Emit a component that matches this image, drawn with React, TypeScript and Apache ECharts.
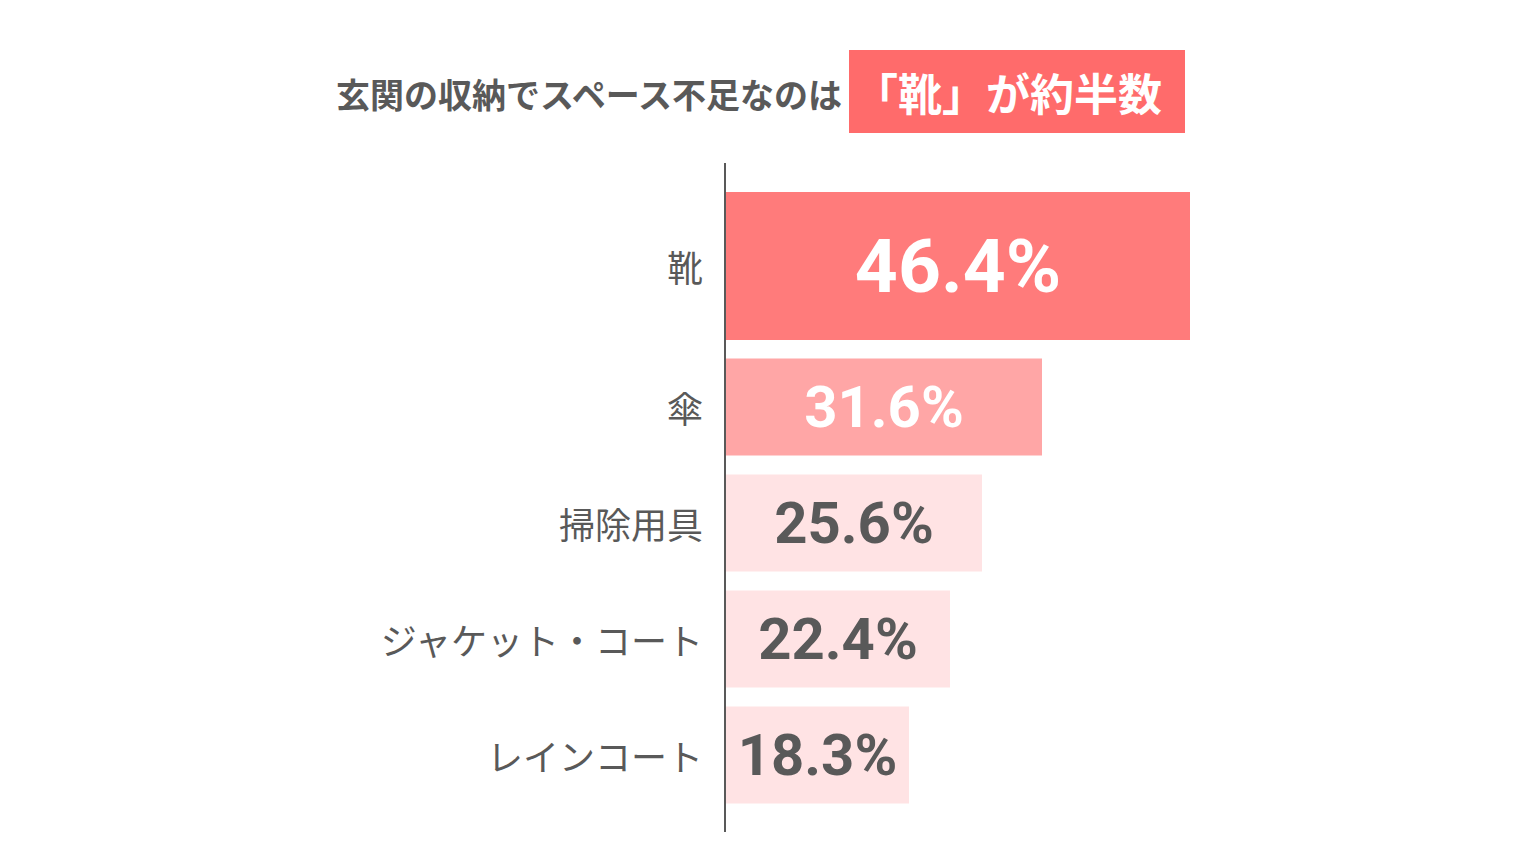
import React, { useEffect, useRef } from "react";
import * as echarts from "echarts";

const categories = ["靴", "傘", "掃除用具", "ジャケット・コート", "レインコート"];
const values = [46.4, 31.6, 25.6, 22.4, 18.3];
const titleLead = "玄関の収納でスペース不足なのは";
const titleHighlight = "「靴」が約半数";

const barColors = ["#FF7B7B", "#FFA6A6", "#FFE3E4", "#FFE3E4", "#FFE3E4"];
const labelColors = ["#FFFFFF", "#FFFFFF", "#595959", "#595959", "#595959"];
const labelSizes = [75, 58, 58, 58, 58];

const GRAY = "#595959";
const CJK = '"Noto Sans CJK JP", "Noto Sans", sans-serif';
const NUM = 'Roboto, "Noto Sans", sans-serif';

function makeData(start: number, end: number) {
  return values.slice(start, end).map((v, i) => {
    const k = start + i;
    return {
      value: v,
      itemStyle: { color: barColors[k] },
      label: { color: labelColors[k], fontSize: labelSizes[k] },
    };
  });
}

export default function App() {
  const ref = useRef<HTMLDivElement>(null);
  useEffect(() => {
    if (!ref.current) return;
    const chart = echarts.init(ref.current, null, { renderer: "svg" });
    const yAxisCommon = {
      type: "category" as const,
      inverse: true,
      axisLine: { show: false },
      axisTick: { show: false },
      splitLine: { show: false },
      axisLabel: { fontSize: 36, color: GRAY, margin: 23, fontFamily: CJK },
    };
    const xAxisCommon = { type: "value" as const, min: 0, max: 50, show: false };
    const labelCommon = {
      show: true,
      position: "inside" as const,
      formatter: (p: any) => `${p.value}%`,
      fontFamily: NUM,
      fontWeight: "bold" as const,
    };
    chart.setOption({
      animation: false,
      backgroundColor: "#ffffff",
      grid: [
        { left: 726, width: 500, top: 163, height: 206 },
        { left: 726, width: 500, top: 349, height: 464 },
      ],
      xAxis: [
        { ...xAxisCommon, gridIndex: 0 },
        { ...xAxisCommon, gridIndex: 1 },
      ],
      yAxis: [
        { ...yAxisCommon, gridIndex: 0, data: categories.slice(0, 1) },
        { ...yAxisCommon, gridIndex: 1, data: categories.slice(1) },
      ],
      series: [
        {
          type: "bar",
          xAxisIndex: 0,
          yAxisIndex: 0,
          barWidth: 148,
          data: makeData(0, 1),
          label: labelCommon,
        },
        {
          type: "bar",
          xAxisIndex: 1,
          yAxisIndex: 1,
          barWidth: 97,
          data: makeData(1, 5),
          label: labelCommon,
        },
      ],
      graphic: [
        {
          type: "line",
          shape: { x1: 725, y1: 163, x2: 725, y2: 832 },
          style: { stroke: GRAY, lineWidth: 2 },
          z: 10,
        },
        {
          type: "text",
          x: 842,
          y: 93,
          style: {
            text: titleLead,
            font: `bold 34px ${CJK}`,
            fill: GRAY,
            align: "right",
            verticalAlign: "middle",
          },
        },
        {
          type: "rect",
          shape: { x: 849, y: 50, width: 336, height: 83 },
          style: { fill: "#FF6B6B" },
        },
        {
          type: "text",
          x: 1008,
          y: 92,
          style: {
            text: titleHighlight,
            font: `bold 44px ${CJK}`,
            fill: "#FFFFFF",
            align: "center",
            verticalAlign: "middle",
          },
        },
      ],
    });
    return () => chart.dispose();
  }, []);
  return (
    <div
      ref={ref}
      style={{ position: "fixed", left: 0, top: 0, width: 1520, height: 858 }}
    />
  );
}
